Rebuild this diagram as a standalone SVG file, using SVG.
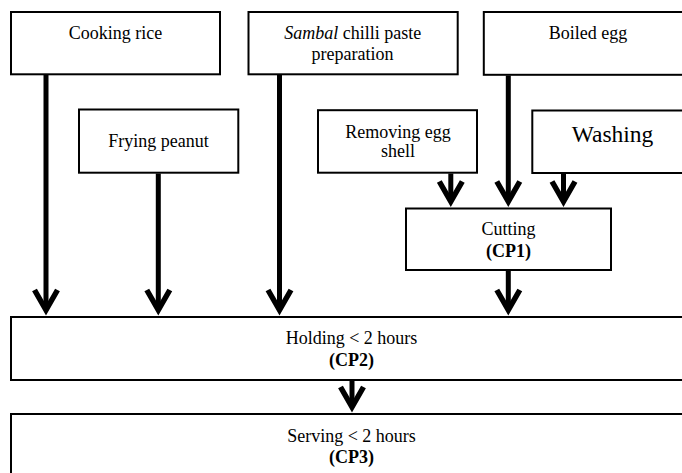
<svg xmlns="http://www.w3.org/2000/svg" xmlns:xlink="http://www.w3.org/1999/xlink" width="682" height="473" viewBox="0 0 682 473">
<style>
.box{fill:#fff;stroke:#000;stroke-width:2}
.t{font-family:"Liberation Serif","Times New Roman",serif;font-size:18px;fill:#000;text-anchor:middle}
.b{font-weight:bold}
.big{font-size:23.5px}
.shaft{stroke:#000;stroke-width:5;fill:none}
.head{stroke:#000;stroke-width:5.5;fill:none;stroke-linejoin:miter;stroke-miterlimit:10}
</style>
<defs>
<path id="ah" class="head" d="M-11.5,-26 L0,-6 L11.5,-26"/>
</defs>
<rect x="0" y="0" width="682" height="473" fill="#fff"/>
<g id="cooking-rice">
<rect class="box" x="11" y="12" width="209" height="62.3"/>
<text class="t" x="115.5" y="39">Cooking rice</text>
</g>
<g id="frying-peanut">
<rect class="box" x="79" y="109.5" width="159.3" height="63.2"/>
<text class="t" x="158.5" y="147">Frying peanut</text>
</g>
<g id="sambal">
<rect class="box" x="248.5" y="12" width="209.2" height="62.3"/>
<text class="t" x="352.7" y="39"><tspan font-style="italic">Sambal</tspan> chilli paste</text>
<text class="t" x="352.5" y="60">preparation</text>
</g>
<g id="boiled-egg">
<rect class="box" x="483.8" y="12" width="210" height="62.8"/>
<text class="t" x="588" y="39">Boiled egg</text>
</g>
<g id="removing-egg-shell">
<rect class="box" x="318" y="110.2" width="159" height="62.5"/>
<text class="t" x="398" y="137.5">Removing egg</text>
<text class="t" x="398" y="157">shell</text>
</g>
<g id="washing">
<rect class="box" x="532.3" y="110.5" width="162" height="62.5"/>
<text class="t big" x="612.5" y="142">Washing</text>
</g>
<g id="cutting">
<rect class="box" x="406" y="208.5" width="205" height="61.5"/>
<text class="t" x="508.5" y="235">Cutting</text>
<text class="t b" x="508.5" y="257">(CP1)</text>
</g>
<g id="holding">
<rect class="box" x="11" y="317" width="683" height="63"/>
<text class="t" x="351.5" y="344">Holding &lt; 2 hours</text>
<text class="t b" x="351.5" y="366">(CP2)</text>
</g>
<g id="serving">
<rect class="box" x="11" y="414" width="683" height="70"/>
<text class="t" x="351.5" y="441.7">Serving &lt; 2 hours</text>
<text class="t b" x="351.5" y="463">(CP3)</text>
</g>
<g id="connectors">
<line class="shaft" x1="46" y1="75" x2="46" y2="310"/>
<use xlink:href="#ah" x="46" y="316"/>
<line class="shaft" x1="158.3" y1="173.5" x2="158.3" y2="310"/>
<use xlink:href="#ah" x="158.3" y="316"/>
<line class="shaft" x1="279.5" y1="75" x2="279.5" y2="310"/>
<use xlink:href="#ah" x="279.5" y="316"/>
<line class="shaft" x1="508.3" y1="75.5" x2="508.3" y2="201"/>
<use xlink:href="#ah" x="508.3" y="207.5"/>
<line class="shaft" x1="450.8" y1="173.5" x2="450.8" y2="201"/>
<use xlink:href="#ah" x="450.8" y="207.5"/>
<line class="shaft" x1="563.5" y1="173.5" x2="563.5" y2="201"/>
<use xlink:href="#ah" x="563.5" y="207.5"/>
<line class="shaft" x1="508.3" y1="271" x2="508.3" y2="310"/>
<use xlink:href="#ah" x="508.3" y="316"/>
<line class="shaft" x1="352" y1="381" x2="352" y2="407"/>
<use xlink:href="#ah" x="352" y="413"/>
</g>
</svg>
